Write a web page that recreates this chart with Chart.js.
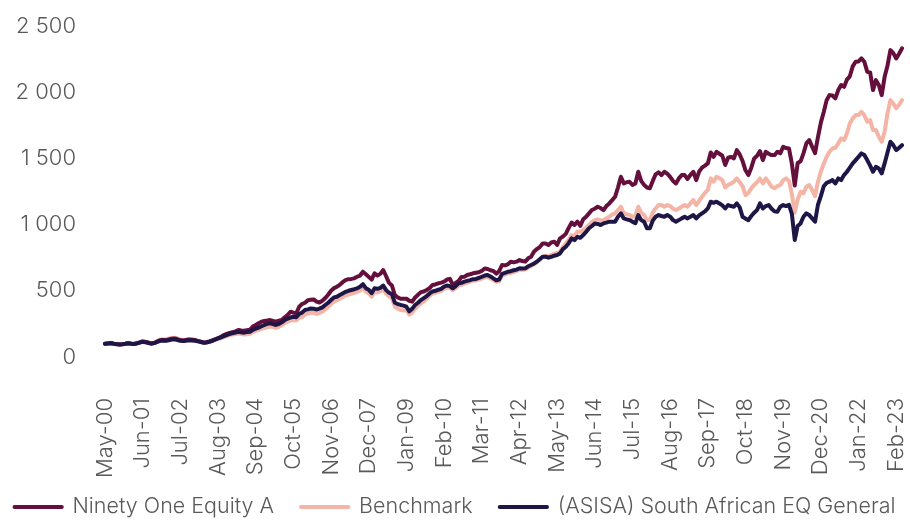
<!DOCTYPE html>
<html>
<head>
<meta charset="utf-8">
<script src="https://cdn.jsdelivr.net/npm/chart.js@4.4.0/dist/chart.umd.min.js"></script>
<style>
html,body{margin:0;padding:0;background:#ffffff;}
#wrap{width:910px;height:521px;position:relative;}
</style>
</head>
<body>
<div id="wrap"><canvas id="c" width="910" height="521"></canvas></div>
<script>
// ---- categories: monthly, May-00 .. Apr-23 ----
const monthNames = ['Jan','Feb','Mar','Apr','May','Jun','Jul','Aug','Sep','Oct','Nov','Dec'];
const categories = [];
for (let y = 2000; y <= 2023; y++) {
  for (let m = 0; m < 12; m++) {
    if (y === 2000 && m < 4) continue;
    if (y === 2023 && m > 3) break;
    categories.push(monthNames[m] + '-' + String(y % 100).padStart(2, '0'));
  }
}

// ---- x tick labels shown ----
const tickLabels = ['May-00','Jun-01','Jul-02','Aug-03','Sep-04','Oct-05','Nov-06','Dec-07','Jan-09','Feb-10','Mar-11',
  'Apr-12','May-13','Jun-14','Jul-15','Aug-16','Sep-17','Oct-18','Nov-19','Dec-20','Jan-22','Feb-23'];

// ---- y ticks ----
const yTicks = [0, 500, 1000, 1500, 2000, 2500];
const yTickLabels = ['0', '500', '1 000', '1 500', '2 000', '2 500'];

// ---- series ----
const seriesNames = ['Ninety One Equity A', 'Benchmark', '(ASISA) South African EQ General'];

const ninetyOne = [
  100, 103, 106, 101, 98, 95, 97, 100,
  104, 100, 98, 104, 110, 118, 114, 108, 102, 106, 116, 126,
  128, 126, 132, 138, 140, 134, 126, 124, 128, 132, 130, 128,
  122, 116, 110, 112, 118, 126, 134, 142, 152, 166, 175, 182,
  188, 194, 204, 200, 198, 202, 206, 230, 242, 255, 267, 272,
  275, 279, 272, 267, 275, 280, 300, 317, 342, 335, 330, 380,
  400, 410, 428, 432, 435, 418, 412, 425, 445, 470, 500, 520,
  531, 545, 565, 581, 588, 590, 594, 606, 615, 644, 625, 605,
  585, 632, 615, 628, 657, 610, 560, 540, 468, 450, 440, 440,
  440, 425, 418, 450, 470, 490, 495, 506, 520, 544, 548, 556,
  562, 569, 585, 590, 545, 560, 575, 604, 606, 619, 625, 632,
  636, 640, 650, 668, 665, 655, 650, 630, 648, 695, 692, 700,
  720, 715, 720, 732, 725, 720, 745, 757, 795, 815, 830, 858,
  858, 846, 865, 871, 846, 896, 910, 930, 975, 1015, 997, 1022,
  990, 1040, 1059, 1085, 1110, 1120, 1135, 1125, 1110, 1140, 1160, 1185,
  1210, 1280, 1361, 1311, 1320, 1324, 1299, 1310, 1399, 1330, 1300, 1280,
  1274, 1330, 1380, 1395, 1374, 1399, 1385, 1361, 1330, 1311, 1349, 1374,
  1374, 1345, 1375, 1399, 1336, 1400, 1430, 1445, 1462, 1545, 1512, 1550,
  1535, 1520, 1450, 1505, 1512, 1500, 1563, 1530, 1480, 1410, 1374, 1430,
  1500, 1520, 1555, 1487, 1550, 1535, 1525, 1525, 1550, 1538, 1588, 1578,
  1575, 1460, 1295, 1465, 1478, 1538, 1613, 1638, 1588, 1540, 1660, 1770,
  1850, 1940, 1978, 1975, 1953, 2016, 2054, 2040, 2095, 2120, 2195, 2230,
  2232, 2255, 2230, 2155, 2150, 2016, 2091, 2054, 1978, 2116, 2200, 2318,
  2295, 2255, 2290, 2331
];

const benchmark = [
  100, 102, 105, 102, 99, 96, 98, 101,
  106, 102, 99, 104, 112, 120, 116, 110, 104, 108, 120, 132,
  134, 132, 138, 144, 146, 140, 132, 128, 130, 134, 132, 130,
  122, 116, 110, 110, 114, 120, 130, 136, 142, 150, 158, 165,
  170, 174, 178, 174, 170, 172, 175, 188, 198, 205, 212, 220,
  225, 230, 226, 220, 228, 240, 255, 266, 276, 280, 278, 298,
  300, 320, 328, 335, 335, 325, 332, 342, 360, 378, 400, 420,
  428, 440, 452, 464, 472, 478, 484, 492, 502, 522, 494, 480,
  455, 490, 487, 495, 510, 478, 458, 445, 380, 365, 355, 352,
  355, 320, 335, 365, 385, 405, 420, 440, 462, 478, 485, 492,
  500, 515, 525, 520, 505, 520, 540, 545, 555, 562, 570, 578,
  578, 585, 592, 600, 605, 594, 582, 568, 572, 615, 622, 632,
  635, 642, 650, 660, 658, 660, 675, 688, 700, 715, 735, 755,
  765, 760, 770, 780, 785, 795, 830, 858, 885, 921, 915, 946,
  946, 959, 975, 997, 1020, 1034, 1040, 1034, 1030, 1047, 1060, 1075,
  1085, 1110, 1135, 1085, 1078, 1072, 1059, 1065, 1135, 1090, 1072, 1034,
  1034, 1090, 1122, 1148, 1148, 1135, 1148, 1140, 1120, 1110, 1122, 1135,
  1148, 1135, 1160, 1185, 1148, 1180, 1210, 1240, 1261, 1349, 1324, 1361,
  1350, 1336, 1280, 1300, 1311, 1324, 1349, 1320, 1290, 1223, 1240, 1274,
  1300, 1320, 1349, 1311, 1349, 1320, 1286, 1274, 1290, 1299, 1336, 1349,
  1330, 1230, 1090, 1190, 1248, 1236, 1286, 1299, 1261, 1215, 1324, 1400,
  1460, 1512, 1550, 1575, 1580, 1613, 1651, 1638, 1689, 1764, 1802, 1827,
  1827, 1852, 1827, 1777, 1789, 1714, 1714, 1663, 1626, 1701, 1840, 1940,
  1915, 1878, 1905, 1940
];

const asisa = [
  100, 102, 104, 100, 97, 95, 97, 100,
  104, 101, 98, 103, 109, 114, 111, 106, 101, 105, 114, 122,
  124, 122, 127, 132, 133, 128, 122, 120, 123, 126, 124, 122,
  118, 113, 108, 110, 115, 122, 132, 140, 148, 158, 166, 174,
  180, 184, 190, 186, 184, 188, 191, 205, 214, 222, 232, 242,
  250, 254, 248, 242, 250, 262, 279, 290, 298, 304, 300, 325,
  335, 355, 360, 367, 365, 358, 365, 375, 393, 410, 430, 450,
  455, 468, 480, 492, 500, 506, 512, 519, 530, 550, 520, 508,
  482, 519, 515, 522, 540, 505, 485, 475, 410, 400, 393, 388,
  380, 345, 365, 393, 410, 430, 445, 460, 480, 495, 500, 508,
  515, 531, 540, 535, 519, 535, 556, 560, 569, 575, 581, 588,
  590, 598, 606, 615, 619, 608, 594, 580, 585, 628, 635, 644,
  648, 655, 660, 670, 668, 670, 685, 695, 705, 720, 738, 757,
  757, 750, 757, 765, 770, 782, 815, 833, 860, 896, 883, 908,
  900, 921, 945, 972, 990, 1009, 1005, 997, 1009, 1015, 1022, 1022,
  1022, 1059, 1085, 1047, 1040, 1034, 1022, 1010, 1072, 1035, 1022, 972,
  972, 1030, 1059, 1072, 1065, 1059, 1072, 1060, 1034, 1022, 1034, 1047,
  1059, 1047, 1060, 1072, 1047, 1070, 1085, 1100, 1122, 1173, 1165, 1173,
  1160, 1145, 1122, 1148, 1140, 1135, 1160, 1130, 1059, 1045, 1034, 1065,
  1090, 1110, 1160, 1122, 1140, 1148, 1120, 1100, 1097, 1135, 1148, 1140,
  1150, 1080, 883, 990, 1009, 1059, 1085, 1072, 1047, 1022, 1150, 1215,
  1290, 1315, 1324, 1336, 1311, 1349, 1336, 1374, 1399, 1430, 1462, 1487,
  1512, 1538, 1525, 1487, 1445, 1399, 1437, 1424, 1387, 1462, 1545, 1626,
  1600, 1563, 1580, 1600
];

const colors = ['#640F3C', '#F4B4A6', '#1E1646'];
const FONT = 'Inter, "Open Sans", "DejaVu Sans", sans-serif';
const TEXT = '#595959';

function draw() {
  const ctx = document.getElementById('c').getContext('2d');
  new Chart(ctx, {
    type: 'line',
    data: {
      labels: categories,
      datasets: [
        { label: seriesNames[0], data: ninetyOne, borderColor: colors[0], backgroundColor: colors[0], order: 1 },
        { label: seriesNames[1], data: benchmark, borderColor: colors[1], backgroundColor: colors[1], order: 2 },
        { label: seriesNames[2], data: asisa, borderColor: colors[2], backgroundColor: colors[2], order: 0 }
      ]
    },
    options: {
      responsive: false,
      animation: false,
      devicePixelRatio: 1,
      elements: {
        line: { borderWidth: 4, tension: 0, borderJoinStyle: 'round', borderCapStyle: 'round' },
        point: { radius: 0, hoverRadius: 0 }
      },
      layout: { padding: { left: -30, right: -30, top: 26, bottom: -6.75 } },
      plugins: {
        tooltip: { enabled: false },
        legend: {
          position: 'bottom',
          labels: {
            usePointStyle: true,
            pointStyle: 'line',
            pointStyleWidth: 47.25,
            padding: 27,
            color: TEXT,
            font: { family: FONT, size: 21.5, weight: 300 },
            generateLabels(chart) {
              return chart.data.datasets.map((ds, i) => ({
                text: ds.label,
                fillStyle: ds.borderColor,
                strokeStyle: ds.borderColor,
                lineWidth: 4,
                lineCap: 'round',
                pointStyle: 'line',
                fontColor: TEXT,
                hidden: false,
                datasetIndex: i
              }));
            }
          }
        }
      },
      scales: {
        x: {
          grid: { display: false, drawTicks: false },
          border: { display: false },
          ticks: {
            autoSkip: false,
            minRotation: 90,
            maxRotation: 90,
            padding: 41,
            color: TEXT,
            font: { family: FONT, size: 22, weight: 300 },
            callback: (v, i) => tickLabels.includes(categories[i]) ? categories[i] : ''
          },
          afterFit(s) {
            s.height = 112.25;
            s.paddingLeft = 0;
            s.paddingRight = 8;
            s._computeLabelArea = function () { return undefined; };
          }
        },
        y: {
          min: 0,
          max: 2500,
          grid: { display: false, drawTicks: false },
          border: { display: false },
          ticks: {
            stepSize: 500,
            padding: 29,
            color: TEXT,
            font: { family: FONT, size: 22, weight: 300 },
            callback: (v) => { const k = yTicks.indexOf(v); return k >= 0 ? yTickLabels[k] : ''; }
          },
          afterFit(s) { s.width = 135; s.paddingTop = 0; s.paddingBottom = 0; }
        }
      }
    }
  });
}

if (document.fonts && document.fonts.load) {
  Promise.all([document.fonts.load('300 22px Inter'), document.fonts.load('300 21.5px Inter')]).then(draw, draw);
} else {
  draw();
}
</script>
</body>
</html>
